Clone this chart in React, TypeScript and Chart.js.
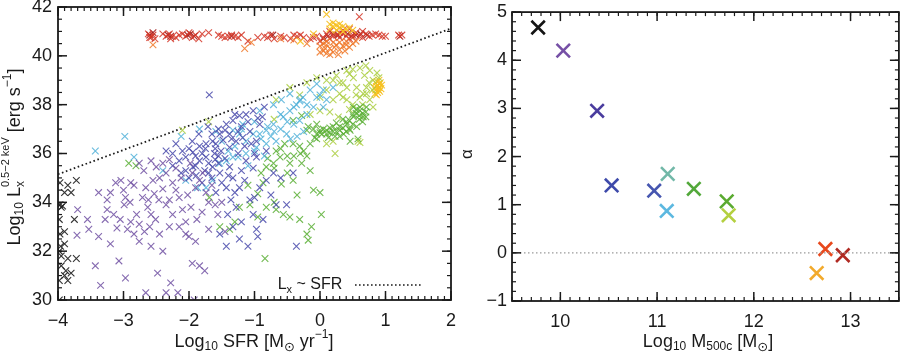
import React, { useEffect, useRef } from 'react';
import { Chart, registerables } from 'chart.js';
Chart.register(...registerables);

const FONT = '"Liberation Sans", "DejaVu Sans", sans-serif';

// ---------- Left panel: Log10 SFR vs Log10 Lx ----------
const leftXTicks = [-4, -3, -2, -1, 0, 1, 2];
const leftYTicks = [30, 32, 34, 36, 38, 40, 42];
const relationLine: [number, number][] = [[-4, 35.15], [2, 41.12]];

const blackPts: [number, number][] = [
  [-3.97, 34.8], [-3.85, 34.7], [-3.72, 34.9], [-3.9, 34.4], [-3.8, 34.4], [-3.97, 33.9], [-3.95, 33.8],
  [-3.75, 33.3], [-3.97, 32.7], [-3.9, 32.3], [-3.98, 32.0], [-3.95, 31.8], [-3.85, 31.7], [-3.72, 31.7],
  [-3.95, 31.4], [-3.9, 31.0], [-3.85, 30.8], [-3.98, 30.8], [-3.8, 31.1], [-3.98, 30.0], [-3.9, 32.8],
  [-3.98, 33.3], [-3.93, 33.85], [-3.88, 31.2], [-3.96, 32.2],
];
const purplePts: [number, number][] = [
  [-3.7, 33.7], [-3.55, 33.3], [-3.53, 32.9], [-3.71, 32.65], [-3.38, 34.4], [-3.2, 34.4], [-3.25, 33.7],
  [-3.15, 33.5], [-3.28, 33.3], [-3.38, 32.6], [-3.2, 32.3], [-3.43, 31.4], [-3.35, 30.6], [-3.07, 31.6],
  [-2.97, 30.9], [-3.04, 34.9], [-2.89, 34.8], [-2.97, 34.2], [-2.99, 33.9], [-2.89, 33.2], [-2.94, 32.9],
  [-2.84, 32.7], [-2.76, 32.4], [-2.76, 33.1], [-2.69, 35.3], [-2.66, 34.6], [-2.71, 34.2], [-2.63, 33.8],
  [-2.58, 33.5], [-2.53, 34.35], [-2.46, 34.1], [-2.51, 33.3], [-2.58, 32.2], [-2.66, 30.3], [-2.48, 31.1],
  [-2.4, 32.0], [-2.35, 30.3], [-2.28, 30.7], [-2.17, 30.3], [-2.4, 35.6], [-2.35, 35.2], [-2.25, 34.8],
  [-2.3, 34.1], [-2.25, 33.5], [-2.15, 33.0], [-2.1, 33.7], [-2.02, 34.3], [-1.97, 33.8], [-2.05, 32.7],
  [-2.0, 32.6], [-1.9, 32.4], [-1.95, 31.5], [-1.84, 31.4], [-1.76, 31.2], [-1.84, 34.9], [-1.74, 34.4],
  [-1.79, 35.2], [-2.58, 35.7], [-2.76, 35.6], [-2.84, 34.7], [-3.12, 34.8], [-3.25, 34.1], [-2.55, 34.9],
  [-2.45, 35.0], [-2.62, 34.1], [-2.3, 33.0], [-2.2, 34.5], [-2.12, 35.0], [-1.95, 35.2], [-1.9, 34.6],
  [-1.6, 33.9], [-1.5, 34.0], [-1.45, 32.8], [-1.56, 33.5], [-2.8, 33.5], [-3.05, 33.3], [-2.45, 32.7],
  [-2.35, 33.9], [-1.88, 33.3], [-1.7, 32.9], [-1.65, 34.7], [-1.98, 35.6], [-2.2, 35.4], [-1.92, 30.0],
  [-2.68, 32.8], [-3.0, 34.5], [-2.5, 35.45], [-2.3, 35.75], [-2.15, 34.2], [-2.05, 33.2], [-1.8, 33.6],
  [-2.6, 33.0], [-3.1, 32.95], [-2.9, 34.0], [-2.4, 34.55], [-1.7, 34.0],
];
const indigoPts: [number, number][] = [
  [-2.15, 35.7], [-2.05, 35.85], [-1.94, 36.05], [-1.84, 36.3], [-1.74, 36.4], [-1.64, 36.5], [-1.71, 37.1],
  [-1.53, 36.8], [-1.43, 37.2], [-1.33, 37.35], [-1.23, 37.55], [-1.13, 37.6], [-1.02, 37.75], [-1.69, 38.4],
  [-1.94, 35.45], [-1.84, 35.7], [-1.74, 35.85], [-1.61, 36.0], [-1.51, 36.1], [-1.38, 36.25], [-1.28, 36.5],
  [-1.18, 36.65], [-2.05, 35.3], [-1.89, 35.1], [-1.76, 35.3], [-1.64, 35.45], [-1.53, 35.2], [-1.38, 35.45],
  [-1.33, 35.0], [-1.23, 34.6], [-1.43, 34.6], [-1.59, 34.4], [-1.36, 34.1], [-1.28, 33.8], [-1.41, 33.5],
  [-1.33, 33.0], [-1.53, 32.7], [-1.43, 32.2], [-1.23, 32.5], [-1.1, 32.2], [-1.02, 33.5], [-0.97, 32.9],
  [-0.95, 32.6], [-0.87, 33.3], [-0.67, 33.9], [-0.51, 33.9], [-0.41, 35.2], [-0.36, 32.2], [-1.07, 34.1],
  [-0.92, 34.6], [-0.82, 34.9], [-0.71, 35.2], [-1.02, 35.4], [-1.13, 35.7], [-0.97, 35.85], [-0.82, 36.1],
  [-0.97, 36.5], [-1.07, 36.9], [-0.92, 37.2], [-1.15, 36.3], [-1.38, 36.8], [-1.59, 36.4], [-2.2, 36.4],
  [-2.35, 36.1], [-2.12, 35.2], [-2.25, 36.0], [-1.8, 36.0], [-1.7, 35.6], [-1.55, 35.9], [-1.45, 35.8],
  [-1.25, 36.0], [-1.9, 35.9], [-2.0, 36.2], [-1.6, 36.2], [-1.48, 36.55], [-1.2, 37.1], [-1.05, 36.4],
  [-0.88, 37.5], [-1.65, 35.0], [-1.5, 34.8], [-1.15, 34.9], [-1.2, 33.2], [-0.75, 34.3],
  [-2.1, 36.1], [-1.95, 36.5], [-1.85, 36.8], [-1.75, 36.2], [-1.65, 36.8], [-1.55, 37.0], [-1.35, 36.6],
  [-1.25, 36.9], [-1.1, 37.3], [-0.95, 37.45], [-0.85, 37.9], [-1.0, 36.0], [-1.9, 35.5], [-1.7, 35.2],
  [-1.55, 35.6], [-1.4, 35.1], [-2.25, 35.5], [-2.0, 35.0], [-1.8, 34.8], [-1.3, 34.4], [-1.0, 34.2],
  [-0.6, 35.0], [-1.45, 36.95], [-1.3, 37.6], [-1.6, 35.75], [-1.2, 35.3],
];
const cyanPts: [number, number][] = [
  [-3.43, 36.1], [-2.98, 36.7], [-2.84, 35.85], [-2.12, 36.7], [-1.84, 37.0], [-1.59, 36.9], [-1.33, 36.95],
  [-1.23, 36.8], [-1.13, 36.5], [-1.02, 36.8], [-0.92, 36.8], [-0.82, 36.95], [-0.71, 37.2], [-0.56, 37.5],
  [-0.46, 37.75], [-0.36, 38.0], [-0.26, 38.3], [-0.15, 38.6], [-0.05, 38.85], [0.0, 38.4], [-0.1, 37.9],
  [-0.31, 37.35], [-0.51, 36.8], [-0.67, 36.5], [-0.82, 36.4], [-0.97, 36.25], [-1.13, 36.0], [-1.33, 35.85],
  [-1.53, 35.6], [-1.64, 34.9], [-1.74, 34.6], [-1.87, 34.6], [-2.05, 34.9], [-1.43, 35.7], [-1.25, 35.85],
  [-0.59, 38.2], [-0.46, 38.45], [0.1, 38.2], [0.2, 38.7], [-0.31, 38.15], [-0.71, 38.0], [-0.92, 37.75],
  [-0.6, 37.0], [-0.4, 37.2], [-0.2, 37.6], [-0.75, 36.7], [-1.0, 37.3], [-1.18, 37.2], [-0.45, 36.6],
  [-0.25, 36.9], [0.05, 37.9], [-0.85, 35.9], [-1.1, 35.5], [-2.4, 35.3],
  [-1.5, 36.5], [-1.3, 36.3], [-1.0, 36.1], [-0.8, 37.1], [-0.6, 37.6], [-0.4, 37.9], [-0.3, 38.2],
  [-0.2, 38.0], [-0.05, 38.3], [0.05, 38.6], [-0.5, 37.3], [-1.2, 37.0], [-0.7, 36.9], [-0.35, 36.7],
  [-1.4, 36.1], [-0.9, 36.6],
];
const greenPts: [number, number][] = [
  [-2.92, 35.6], [-2.81, 35.5], [-1.69, 34.2], [-1.53, 33.0], [-1.38, 32.9], [-1.3, 33.2], [-1.23, 33.8],
  [-1.07, 33.9], [-0.95, 34.35], [-0.87, 34.8], [-0.82, 35.45], [-0.71, 35.6], [-0.61, 35.85], [-0.46, 35.6],
  [-0.28, 35.6], [-0.15, 35.3], [-0.1, 34.5], [0.0, 34.4], [0.02, 33.5], [-0.13, 33.0], [-0.2, 32.7],
  [-0.18, 32.45], [-0.31, 33.3], [-0.46, 33.4], [-0.56, 33.5], [-0.67, 33.7], [-0.82, 33.8], [-0.84, 31.7],
  [-0.95, 33.4], [-0.59, 34.75], [-0.41, 34.9], [-0.31, 36.3], [-0.41, 36.4], [-0.15, 36.4], [-0.05, 36.8],
  [0.0, 36.95], [0.1, 36.95], [0.2, 37.1], [0.3, 36.95], [0.41, 37.2], [0.51, 37.5], [0.61, 37.75],
  [0.66, 37.5], [0.56, 37.1], [0.46, 36.95], [0.36, 36.8], [0.23, 36.7], [0.13, 36.65], [0.03, 36.8],
  [-0.08, 36.65], [0.58, 36.6], [0.46, 36.5], [0.61, 37.9], [0.71, 37.9], [0.51, 37.9], [-0.05, 37.2],
  [-0.18, 37.1], [-0.28, 37.55], [-0.41, 37.35], [-0.54, 36.4], [-0.67, 36.1], [0.05, 37.0], [0.15, 36.85],
  [0.25, 36.9], [0.35, 37.05], [0.45, 37.35], [0.55, 37.65], [0.65, 37.65], [0.7, 37.7], [0.6, 37.4],
  [-0.25, 36.1], [-0.5, 35.9], [-0.9, 35.2], [-1.1, 34.7], [-0.7, 34.0], [-0.35, 34.3],
  [-0.2, 36.95], [-0.1, 37.0], [0.0, 36.85], [0.1, 36.8], [0.2, 36.9], [0.3, 37.1], [0.4, 37.3],
  [0.5, 37.6], [0.55, 37.8], [0.6, 37.55], [0.5, 37.2], [0.4, 36.9], [0.3, 36.7], [0.15, 37.05],
  [-0.05, 36.6], [0.65, 37.3], [0.7, 37.5], [0.35, 37.4], [0.25, 37.25], [0.45, 37.0],
  [-0.8, 35.8], [-0.6, 36.2], [-0.4, 35.9], [-0.3, 36.0], [-0.7, 35.4], [-0.5, 35.2], [-0.2, 35.9],
];
const limePts: [number, number][] = [
  [-2.1, 36.95], [-0.67, 38.2], [-0.46, 38.7], [-0.31, 38.4], [-0.05, 39.1], [0.1, 39.0], [0.25, 39.2],
  [0.41, 39.4], [0.61, 39.5], [0.76, 39.4], [0.87, 39.3], [0.81, 39.0], [0.71, 38.7], [0.66, 38.45],
  [0.56, 38.7], [0.41, 38.7], [0.3, 38.45], [0.2, 38.2], [0.41, 38.2], [0.61, 38.3], [0.76, 38.2],
  [0.81, 37.9], [0.71, 38.45], [0.51, 39.1], [0.15, 37.7], [0.0, 37.75], [-0.15, 37.6], [0.28, 37.5],
  [0.2, 36.5], [0.1, 36.4], [0.23, 36.0], [0.58, 36.5], [0.61, 36.45], [0.35, 38.9], [0.5, 38.0],
  [0.68, 39.2], [0.45, 37.8], [-0.7, 37.4], [-1.7, 37.3],
  [0.0, 38.3], [0.1, 38.6], [0.3, 38.9], [0.45, 39.25], [0.55, 38.4], [0.65, 38.0], [0.75, 38.9],
  [0.8, 38.6], [0.35, 38.3], [0.2, 39.0], [-0.2, 38.9], [0.5, 39.45], [0.7, 39.6], [0.9, 39.1],
];
const goldPts: [number, number][] = [
  [0.85, 38.9], [0.88, 38.8], [0.9, 38.7], [0.85, 38.6], [0.88, 38.5], [0.92, 38.9], [0.9, 39.0],
  [0.86, 38.75], [0.93, 38.65], [0.87, 38.95], [0.91, 38.55], [0.84, 38.45], [0.89, 38.62], [0.83, 38.7],
  [0.94, 38.8], [0.86, 38.4], [0.91, 38.85], [0.1, 41.7], [0.15, 41.3], [0.2, 41.2], [0.25, 41.25],
  [0.3, 41.15], [0.35, 41.2], [0.4, 41.1], [0.45, 41.15], [0.5, 41.05], [0.15, 41.1], [0.25, 41.05],
  [0.35, 41.0], [-0.1, 40.9], [-0.3, 40.6], [0.2, 41.35], [0.3, 41.3],
];
const orangePts: [number, number][] = [
  [-2.55, 40.45], [-1.15, 40.3], [-1.05, 40.55], [-0.6, 40.7], [-0.4, 40.65], [0.0, 40.4], [0.05, 40.2],
  [0.1, 40.1], [0.15, 40.3], [0.2, 40.15], [0.25, 40.45], [0.3, 40.25], [0.35, 40.4], [0.4, 40.6],
  [0.45, 40.35], [0.5, 40.5], [0.05, 40.5], [0.1, 40.6], [0.2, 40.55], [0.3, 40.55], [0.4, 40.45],
  [0.15, 40.05], [0.0, 40.15], [0.55, 40.6], [0.1, 40.45], [0.28, 40.05], [-0.2, 40.5], [0.22, 40.35],
  [0.38, 40.2], [0.08, 40.3],
];
const redPts: [number, number][] = [
  [-2.62, 40.9], [-2.58, 40.75], [-2.55, 40.85], [-2.52, 40.7], [-2.35, 40.8], [-2.3, 40.9], [-2.28, 40.7],
  [-2.25, 40.8], [-2.1, 40.9], [-2.05, 40.8], [-2.0, 40.95], [-1.95, 40.75], [-1.9, 40.85], [-1.85, 40.7],
  [-1.8, 40.9], [-1.7, 40.95], [-1.5, 40.8], [-1.45, 40.75], [-1.4, 40.8], [-1.35, 40.85], [-1.3, 40.8],
  [-1.25, 40.75], [-1.1, 40.6], [-0.95, 40.75], [-0.85, 40.8], [-0.75, 40.85], [-0.7, 40.7], [-0.6, 40.8],
  [-0.55, 40.75], [-0.45, 40.7], [-0.35, 40.8], [-0.25, 40.75], [-0.15, 40.7], [-0.05, 40.8], [0.0, 40.6],
  [0.05, 40.75], [0.1, 40.9], [0.15, 40.7], [0.2, 40.8], [0.25, 40.85], [0.3, 40.75], [0.35, 40.9],
  [0.4, 40.8], [0.45, 40.7], [0.5, 40.85], [0.55, 40.95], [0.6, 40.8], [0.65, 40.75], [0.7, 40.9],
  [0.75, 40.8], [0.8, 40.85], [0.9, 40.85], [0.95, 40.8], [1.2, 40.85], [1.25, 40.85], [0.6, 41.6],
  [-0.3, 40.85], [0.15, 41.0], [0.35, 41.05], [0.45, 41.1], [0.65, 41.0],
  [-2.6, 40.75], [-2.4, 40.9], [-2.2, 40.75], [-2.15, 40.85], [-1.55, 40.85], [-1.2, 40.85], [-0.8, 40.75],
  [-0.4, 40.85], [-0.1, 40.75], [0.3, 40.95], [0.5, 40.75], [0.85, 40.9], [1.0, 40.8],
];
const darkRedPts: [number, number][] = [
  [-2.6, 40.85], [-2.32, 40.85], [-2.02, 40.85], [-1.92, 40.8], [-1.35, 40.8], [-0.72, 40.85], [0.12, 40.8],
  [0.28, 40.85], [0.42, 40.9], [0.55, 40.85], [0.62, 40.9], [0.72, 40.85], [0.05, 40.7], [1.22, 40.8],
  [-2.55, 40.95], [-2.28, 40.8], [-1.98, 40.9], [0.2, 40.9], [0.48, 40.8],
];

// ---------- Right panel: Log10 M500c vs alpha ----------
const rightXTicks = [10, 11, 12, 13];
const rightYTicks = [-1, 0, 1, 2, 3, 4, 5];
const haloMass = [9.77, 10.03, 10.38, 10.53, 10.97, 11.11, 11.1, 11.38, 11.72, 11.74, 12.65, 12.74, 12.92];
const alphaVals = [4.68, 4.2, 2.95, 1.4, 1.29, 1.64, 0.87, 1.33, 1.07, 0.78, -0.42, 0.08, -0.05];
const alphaColors = ['#141414', '#7650a6', '#4a3c9e', '#3e4aaa', '#4656b0', '#72b8a8', '#5cb8e0', '#52a83a',
  '#5aaa30', '#b4d040', '#f2aa2c', '#e8481c', '#b02a22'];
const zeroLine: [number, number][] = [[9.5, 0], [13.5, 0]];

const fmt = (v: number) => (v < 0 ? '\u2212' + Math.abs(v) : String(v));

type Seg = { t: string; s: number; dy?: number; noAdv?: boolean };

function drawRich(ctx: CanvasRenderingContext2D, segs: Seg[], cx: number, cy: number, rot: number) {
  ctx.save();
  ctx.translate(cx, cy);
  ctx.rotate(rot);
  let total = 0;
  const widths = segs.map((g) => {
    ctx.font = `${g.s}px ${FONT}`;
    const w = ctx.measureText(g.t).width;
    if (!g.noAdv) total += w;
    return w;
  });
  let x = -total / 2;
  ctx.textBaseline = 'middle';
  ctx.fillStyle = '#1a1a1a';
  ctx.textAlign = 'left';
  segs.forEach((g, i) => {
    ctx.font = `${g.s}px ${FONT}`;
    ctx.fillText(g.t, x, g.dy || 0);
    if (!g.noAdv) x += widths[i];
  });
  ctx.restore();
}

const framePlugin = {
  id: 'frame',
  afterDatasetsDraw(chart: any, _a: any, opts: any) {
    const { ctx, chartArea: a, scales } = chart;
    const xs = scales.x, ys = scales.y;
    ctx.save();
    ctx.strokeStyle = '#1a1a1a';
    ctx.lineWidth = 1.2;
    const seg = (x1: number, y1: number, x2: number, y2: number) => {
      ctx.beginPath(); ctx.moveTo(x1, y1); ctx.lineTo(x2, y2); ctx.stroke();
    };
    const ticks = (min: number, max: number, step: number, f: (v: number) => void) => {
      const n0 = Math.ceil(min / step - 1e-6), n1 = Math.floor(max / step + 1e-6);
      for (let n = n0; n <= n1; n++) f(n * step);
    };
    const xt = (step: number, len: number) => ticks(xs.min, xs.max, step, (v) => {
      const p = xs.getPixelForValue(v);
      seg(p, a.bottom, p, a.bottom - len); seg(p, a.top, p, a.top + len);
    });
    const yt = (step: number, len: number) => ticks(ys.min, ys.max, step, (v) => {
      const p = ys.getPixelForValue(v);
      seg(a.left, p, a.left + len, p); seg(a.right, p, a.right - len, p);
    });
    xt(opts.xMinor, 4); yt(opts.yMinor, 4);
    ctx.lineWidth = 1.5;
    xt(opts.xMajor, 9); yt(opts.yMajor, 9);
    ctx.lineWidth = 1.8;
    ctx.strokeRect(a.left, a.top, a.right - a.left, a.bottom - a.top);
    ctx.restore();
  },
};

const textPlugin = {
  id: 'richText',
  afterDraw(chart: any, _a: any, opts: any) {
    const ctx = chart.ctx;
    (opts.items || []).forEach((it: any) => drawRich(ctx, it.segs, it.x, it.y, it.rot || 0));
    if (opts.legend) {
      const L = opts.legend;
      drawRich(ctx, L.segs, L.x, L.y, 0);
      ctx.save();
      ctx.strokeStyle = '#1a1a1a';
      ctx.lineWidth = 1.6;
      ctx.setLineDash([1.6, 2.4]);
      ctx.beginPath(); ctx.moveTo(L.x1, L.ly); ctx.lineTo(L.x2, L.ly); ctx.stroke();
      ctx.restore();
    }
  },
};

function scaleOpts(min: number, max: number, tickVals: number[], pad: number, isX: boolean, size: number) {
  return {
    type: 'linear',
    min, max,
    afterBuildTicks: (s: any) => { s.ticks = tickVals.map((v) => ({ value: v })); },
    afterFit: (s: any) => {
      if (isX) s.height = size; else s.width = size;
      s.paddingTop = 0; s.paddingBottom = 0; s.paddingLeft = 0; s.paddingRight = 0;
    },
    grid: { display: false, drawTicks: false },
    border: { display: false },
    ticks: {
      padding: pad,
      color: '#1a1a1a',
      font: { family: FONT, size: 18 },
      maxRotation: 0,
      autoSkip: false,
      callback: (v: any) => fmt(Number(v)),
    },
  };
}

const scatterSet = (pts: [number, number][], color: string) => ({
  type: 'scatter',
  data: pts.map(([x, y]) => ({ x, y })),
  pointStyle: 'crossRot',
  pointRadius: 4.7,
  pointBorderWidth: 1.1,
  borderColor: color,
  backgroundColor: color,
});

function LeftChart() {
  const ref = useRef<HTMLCanvasElement>(null);
  useEffect(() => {
    const chart = new Chart(ref.current as HTMLCanvasElement, {
      type: 'scatter',
      data: {
        datasets: [
          scatterSet(blackPts, 'rgba(30,30,30,0.9)'),
          scatterSet(purplePts, 'rgba(112,80,162,0.85)'),
          scatterSet(indigoPts, 'rgba(70,72,170,0.85)'),
          scatterSet(cyanPts, 'rgba(80,176,216,0.85)'),
          scatterSet(greenPts, 'rgba(88,174,50,0.85)'),
          scatterSet(limePts, 'rgba(170,206,64,0.85)'),
          scatterSet(goldPts, 'rgba(246,192,30,0.9)'),
          scatterSet(orangePts, 'rgba(240,120,40,0.85)'),
          scatterSet(redPts, 'rgba(212,52,36,0.85)'),
          scatterSet(darkRedPts, 'rgba(160,30,30,0.9)'),
          {
            type: 'line',
            data: relationLine.map(([x, y]) => ({ x, y })),
            borderColor: '#1a1a1a',
            borderWidth: 1.8,
            borderDash: [1.6, 2.6],
            pointRadius: 0,
            showLine: true,
            fill: false,
          },
        ] as any,
      },
      options: {
        animation: false,
        responsive: false,
        events: [],
        layout: { padding: { top: 7, right: 9, left: 0, bottom: 0 } },
        scales: {
          x: scaleOpts(-4, 2, leftXTicks, 10, true, 55) as any,
          y: scaleOpts(30, 42, leftYTicks, 6, false, 58) as any,
        },
        plugins: {
          legend: { display: false },
          tooltip: { enabled: false },
          frame: { xMajor: 1, xMinor: 0.1, yMajor: 2, yMinor: 0.5 },
          richText: {
            items: [
              {
                x: 254, y: 342, segs: [
                  { t: 'Log', s: 18 }, { t: '10', s: 12, dy: 5 }, { t: ' SFR [M', s: 18 },
                  { t: '\u2299', s: 13, dy: 5 }, { t: ' yr', s: 18 }, { t: '\u22121', s: 12, dy: -7 }, { t: ']', s: 18 },
                ],
              },
              {
                x: 15, y: 157, rot: -Math.PI / 2, segs: [
                  { t: 'Log', s: 18 }, { t: '10', s: 12, dy: 5 }, { t: ' L', s: 18 },
                  { t: 'x', s: 12, dy: 6, noAdv: true }, { t: '0.5\u22122 keV', s: 11, dy: -9 },
                  { t: ' [erg s', s: 18 }, { t: '\u22121', s: 12, dy: -7 }, { t: ']', s: 18 },
                ],
              },
            ],
            legend: {
              x: 310, y: 285, x1: 355, x2: 422, ly: 285, segs: [
                { t: 'L', s: 16 }, { t: 'x', s: 11, dy: 5 }, { t: ' ~ SFR', s: 16 },
              ],
            },
          },
        } as any,
      },
      plugins: [framePlugin, textPlugin],
    });
    return () => chart.destroy();
  }, []);
  return <canvas ref={ref} width={460} height={355} style={{ position: 'absolute', left: 0, top: 0 }} />;
}

function RightChart() {
  const ref = useRef<HTMLCanvasElement>(null);
  useEffect(() => {
    const chart = new Chart(ref.current as HTMLCanvasElement, {
      type: 'scatter',
      data: {
        datasets: [
          {
            type: 'line',
            data: zeroLine.map(([x, y]) => ({ x, y })),
            borderColor: '#9a9a9a',
            borderWidth: 1.4,
            borderDash: [1.5, 2.5],
            pointRadius: 0,
            fill: false,
          },
          {
            type: 'scatter',
            data: haloMass.map((m, i) => ({ x: m, y: alphaVals[i] })),
            pointStyle: 'crossRot',
            pointRadius: 9.5,
            pointBorderWidth: 2.6,
            borderColor: alphaColors,
            backgroundColor: alphaColors,
          },
        ] as any,
      },
      options: {
        animation: false,
        responsive: false,
        events: [],
        layout: { padding: { top: 7, right: 4, left: 0, bottom: 0 } },
        scales: {
          x: scaleOpts(9.5, 13.5, rightXTicks, 10, true, 54) as any,
          y: scaleOpts(-1, 5, rightYTicks, 5, false, 52) as any,
        },
        plugins: {
          legend: { display: false },
          tooltip: { enabled: false },
          frame: { xMajor: 1, xMinor: 0.1, yMajor: 1, yMinor: 0.2 },
          richText: {
            items: [
              {
                x: 248, y: 342, segs: [
                  { t: 'Log', s: 18 }, { t: '10', s: 12, dy: 5 }, { t: ' M', s: 18 },
                  { t: '500c', s: 12, dy: 5 }, { t: ' [M', s: 18 }, { t: '\u2299', s: 13, dy: 5 }, { t: ']', s: 18 },
                ],
              },
              { x: 7, y: 154, rot: -Math.PI / 2, segs: [{ t: '\u03b1', s: 17 }] },
            ],
          },
        } as any,
      },
      plugins: [framePlugin, textPlugin],
    });
    return () => chart.destroy();
  }, []);
  return <canvas ref={ref} width={451} height={355} style={{ position: 'absolute', left: 460, top: 0 }} />;
}

export default function App() {
  return (
    <div style={{ position: 'fixed', left: 0, top: 0, width: 911, height: 355, background: '#fff' }}>
      <LeftChart />
      <RightChart />
    </div>
  );
}
